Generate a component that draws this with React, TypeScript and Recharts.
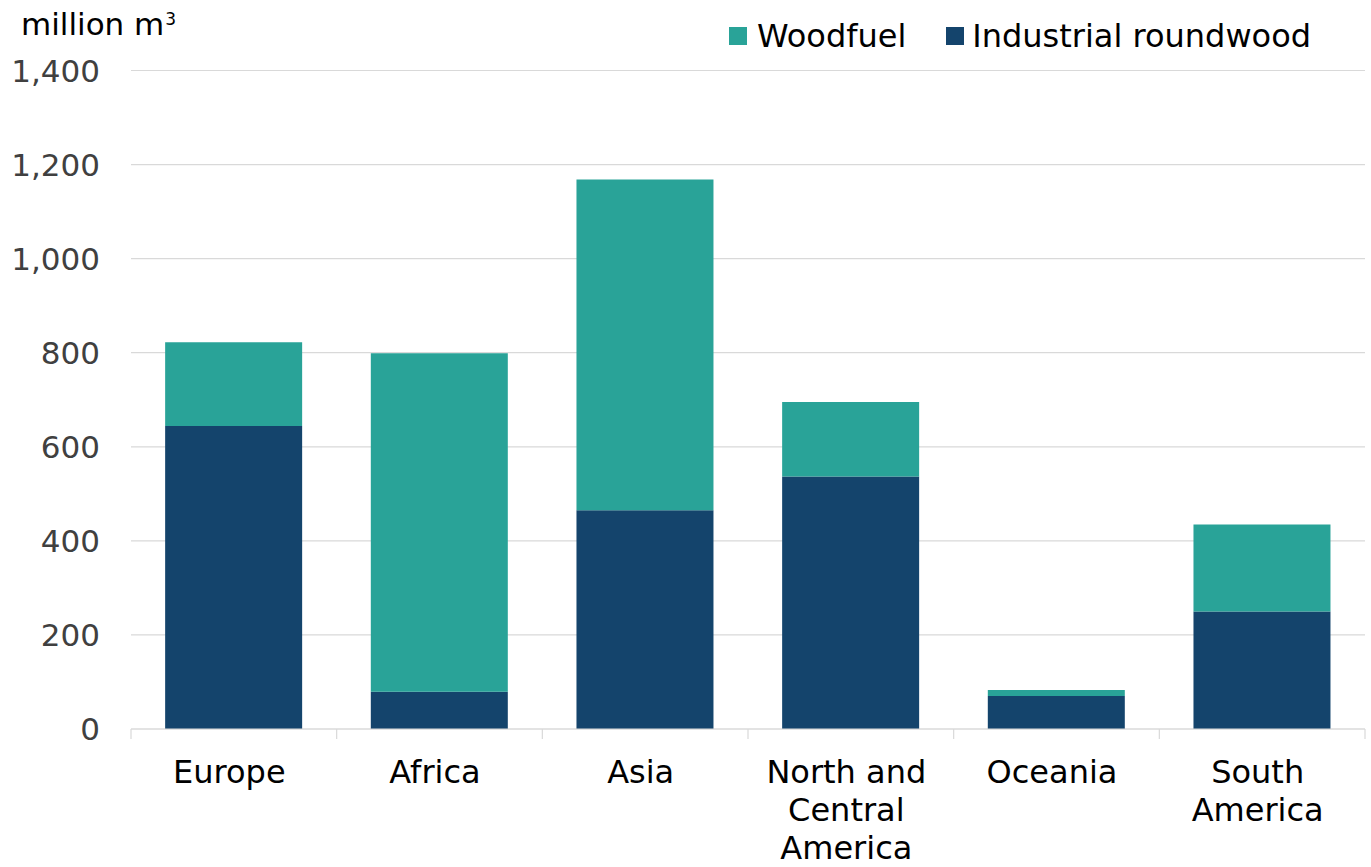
import React from 'react';
import { BarChart, Bar, XAxis, YAxis, CartesianGrid } from 'recharts';

// ---- data ----
const categories = ['Europe', 'Africa', 'Asia', 'North and Central America', 'Oceania', 'South America'];
const categoryLabelLines = [
  ['Europe'],
  ['Africa'],
  ['Asia'],
  ['North and', 'Central', 'America'],
  ['Oceania'],
  ['South', 'America'],
];
const industrialRoundwood = [644, 79, 465, 537, 70, 250];
const woodfuel = [178, 720, 703, 158, 13, 185];
const yTicks = [0, 200, 400, 600, 800, 1000, 1200, 1400];
const seriesNames = ['Woodfuel', 'Industrial roundwood'];
const unitLabel = 'million m';
const unitSup = '3';

const data = categories.map((c, i) => ({
  category: c,
  industrial: industrialRoundwood[i],
  woodfuel: woodfuel[i],
}));

// ---- layout ----
const W = 1371;
const H = 867;
const MARGIN = { top: 70.5, right: 6, bottom: 0, left: 0 };
const YAXIS_W = 131;
const XAXIS_H = H - 729 - MARGIN.bottom;
const PLOT_W = W - MARGIN.left - MARGIN.right - YAXIS_W;
const FONT = 'DejaVu Sans';
const FS = 31;
const FS_LABEL = 32;
const COLORS = { woodfuel: '#29a398', industrial: '#14446c' };
const GRID = '#d9d9d9';

const XTick = (props: any) => {
  const { x, y, index } = props;
  const band = PLOT_W / categories.length;
  const lines = categoryLabelLines[index] || [String(props.payload?.value ?? '')];
  const tx = x - 4.5;
  return (
    <g>
      <line x1={x - band / 2} x2={x - band / 2} y1={y} y2={y + 10} stroke={GRID} strokeWidth={1.2} />
      {index === categories.length - 1 && (
        <line x1={x + band / 2} x2={x + band / 2} y1={y} y2={y + 10} stroke={GRID} strokeWidth={1.2} />
      )}
      <text x={tx} y={y + 53.8} textAnchor="middle" fill="#000" fontSize={FS_LABEL} fontFamily={FONT}>
        {lines.map((l: string, i: number) => (
          <tspan key={i} x={tx} dy={i === 0 ? 0 : 38}>
            {l}
          </tspan>
        ))}
      </text>
    </g>
  );
};

export default function App() {
  const legendItems = [
    { name: seriesNames[0], color: COLORS.woodfuel },
    { name: seriesNames[1], color: COLORS.industrial },
  ];
  return (
    <div
      style={{
        position: 'absolute',
        left: 0,
        top: 0,
        width: W,
        height: H,
        fontFamily: FONT,
        background: '#fff',
      }}
    >
      <BarChart width={W} height={H} data={data} margin={MARGIN} barCategoryGap="16.6%">
        <CartesianGrid vertical={false} stroke={GRID} strokeWidth={1.2} />
        <XAxis
          dataKey="category"
          height={XAXIS_H}
          interval={0}
          tickSize={0}
          tickMargin={0}
          tickLine={false}
          axisLine={{ stroke: GRID, strokeWidth: 1.2 }}
          tick={<XTick />}
        />
        <YAxis
          width={YAXIS_W}
          domain={[0, 1400]}
          ticks={yTicks}
          interval={0}
          axisLine={false}
          tickLine={false}
          tickSize={0}
          tickMargin={31}
          tickFormatter={(v: number) => v.toLocaleString('en-US')}
          tick={{ fill: '#404040', fontSize: FS, fontFamily: FONT }}
        />
        <Bar dataKey="industrial" name={seriesNames[1]} stackId="a" fill={COLORS.industrial} isAnimationActive={false} />
        <Bar dataKey="woodfuel" name={seriesNames[0]} stackId="a" fill={COLORS.woodfuel} isAnimationActive={false} />
      </BarChart>

      <div
        style={{
          position: 'absolute',
          left: 21,
          top: 8.8,
          fontSize: FS,
          lineHeight: '31px',
          color: '#000',
          whiteSpace: 'nowrap',
        }}
      >
        {unitLabel}
        <span style={{ fontSize: 17, position: 'relative', top: -10, marginLeft: 1 }}>{unitSup}</span>
      </div>

      <div
        style={{
          position: 'absolute',
          left: 729,
          top: 20.3,
          display: 'flex',
          alignItems: 'center',
          height: 32,
          fontSize: FS_LABEL,
          lineHeight: '32px',
          color: '#000',
          whiteSpace: 'nowrap',
        }}
      >
        {legendItems.map((it, i) => (
          <div key={it.name} style={{ display: 'flex', alignItems: 'center', marginRight: i === 0 ? 39.5 : 0 }}>
            <div style={{ width: 18, height: 18, background: it.color, marginRight: i === 0 ? 10 : 8.4 }} />
            <span>{it.name}</span>
          </div>
        ))}
      </div>
    </div>
  );
}
